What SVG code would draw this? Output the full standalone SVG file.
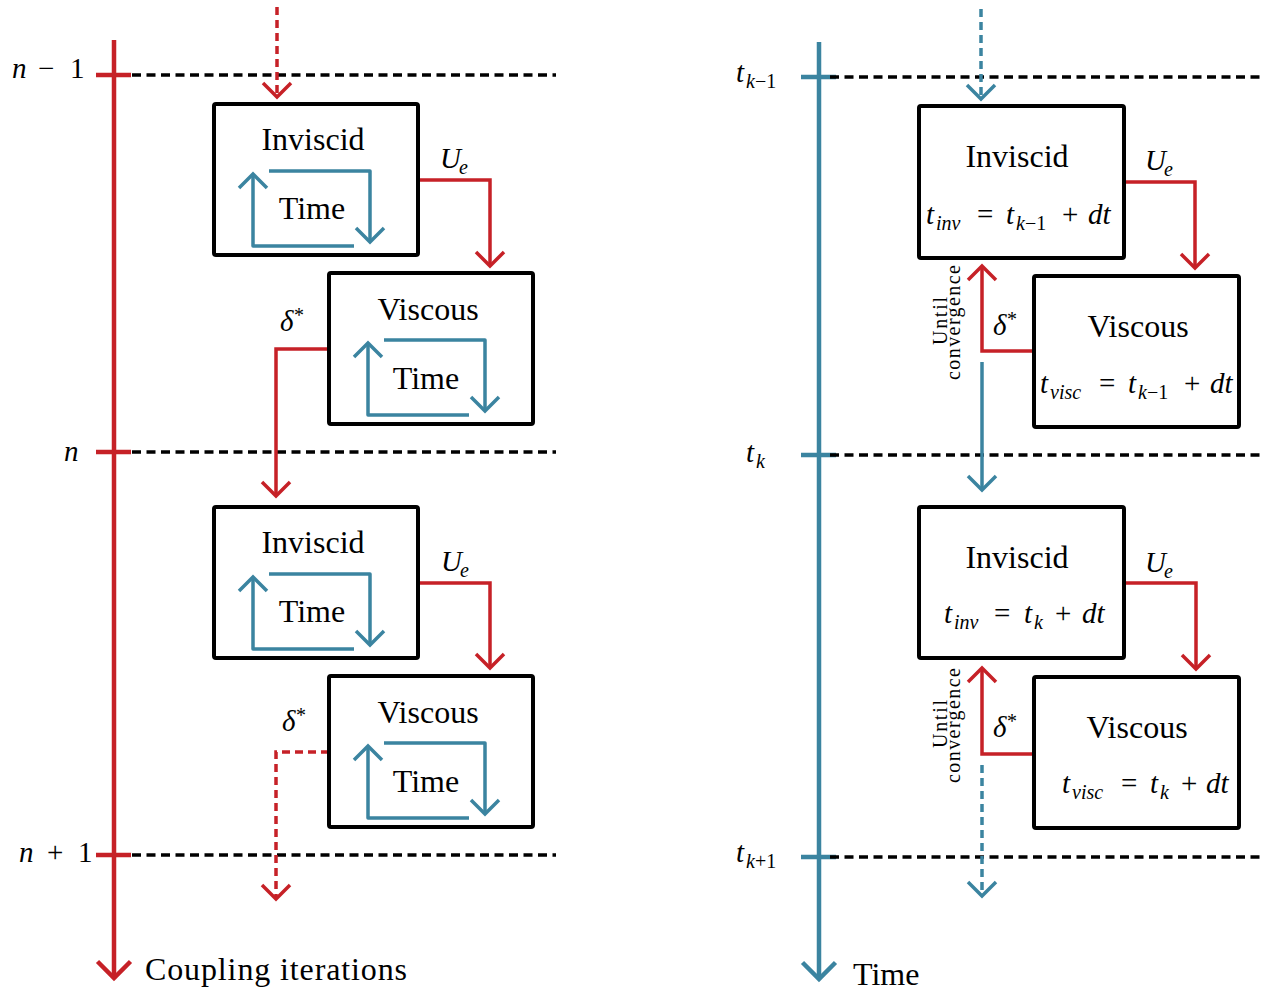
<svg xmlns="http://www.w3.org/2000/svg" width="1270" height="991" viewBox="0 0 1270 991">
<style>
text{font-family:"Liberation Serif","Times New Roman",serif;fill:#000}
.t{font-size:32px}
.m{font-size:29px}
.it{font-style:italic}
.sub{font-size:20px}
.box{fill:#fff;stroke:#000;stroke-width:4;}
.red{fill:none;stroke:#C62127;stroke-width:3.5;stroke-linejoin:miter}
.blue{fill:none;stroke:#3B84A0;stroke-width:3.5;stroke-linejoin:round}
.dash{stroke-dasharray:8 5}
.grid{fill:none;stroke:#000;stroke-width:3.5;stroke-dasharray:9 5.5}
.axr{fill:none;stroke:#C62127;stroke-width:4.5}
.axb{fill:none;stroke:#3B84A0;stroke-width:4.5}
</style>
<defs>
<marker id="ahr" viewBox="-20 -20 40 40" refX="0" refY="0" markerWidth="40" markerHeight="40" markerUnits="userSpaceOnUse" orient="auto"><path d="M-14,-14 L0,0 L-14,14" fill="none" stroke="#C62127" stroke-width="3.5"/></marker>
<marker id="ahb" viewBox="-20 -20 40 40" refX="0" refY="0" markerWidth="40" markerHeight="40" markerUnits="userSpaceOnUse" orient="auto"><path d="M-14,-14 L0,0 L-14,14" fill="none" stroke="#3B84A0" stroke-width="3.5"/></marker>
<marker id="ahR" viewBox="-20 -20 40 40" refX="0" refY="0" markerWidth="40" markerHeight="40" markerUnits="userSpaceOnUse" orient="auto"><path d="M-16.5,-16.5 L0,0 L-16.5,16.5" fill="none" stroke="#C62127" stroke-width="4.5"/></marker>
<marker id="ahB" viewBox="-20 -20 40 40" refX="0" refY="0" markerWidth="40" markerHeight="40" markerUnits="userSpaceOnUse" orient="auto"><path d="M-16.5,-16.5 L0,0 L-16.5,16.5" fill="none" stroke="#3B84A0" stroke-width="4.5"/></marker>
</defs>

<g id="axes">
  <path class="grid" d="M132,75 H556 M132,452 H556 M132,855 H556"/>
  <path class="axr" d="M96,75 H131 M96,452 H131 M96,855 H131"/>
  <path class="axr" d="M114,40 V978" marker-end="url(#ahR)"/>
  <path class="axb" d="M801,77 H836 M801,455 H836 M801,857 H836"/>
  <path class="grid" d="M830,77 H1262 M830,455 H1262 M830,857 H1262"/>
  <path class="axb" d="M819,42 V979" marker-end="url(#ahB)"/>
  <text class="m" x="12" y="78"><tspan class="it">n</tspan><tspan x="38">−</tspan><tspan x="70">1</tspan></text>
  <text class="m it" x="64" y="461">n</text>
  <text class="m" x="19" y="862"><tspan class="it">n</tspan><tspan x="47">+</tspan><tspan x="78">1</tspan></text>
  <text class="t" x="145" y="980" textLength="262">Coupling iterations</text>
  <text class="m" x="736" y="82"><tspan class="it">t</tspan><tspan class="sub" x="746" y="88"><tspan class="it">k</tspan>−1</tspan></text>
  <text class="m" x="746" y="462"><tspan class="it">t</tspan><tspan class="sub it" x="756" y="468">k</tspan></text>
  <text class="m" x="736" y="862"><tspan class="it">t</tspan><tspan class="sub" x="746" y="868"><tspan class="it">k</tspan>+1</tspan></text>
  <text class="t" x="853" y="985">Time</text>
</g>

<g id="connectors">
  <path class="red dash" d="M277,7 V97" marker-end="url(#ahr)"/>
  <path class="red" d="M418,180 H490 V266" marker-end="url(#ahr)"/>
  <path class="red" d="M329,349 H276 V496" marker-end="url(#ahr)"/>
  <path class="red" d="M418,583 H490 V668" marker-end="url(#ahr)"/>
  <path class="red dash" d="M329,752 H276 V899" marker-end="url(#ahr)"/>
  <path class="blue dash" d="M981,9 V99" marker-end="url(#ahb)"/>
  <path class="red" d="M1124,182 H1195 V268" marker-end="url(#ahr)"/>
  <path class="red" d="M1034,351 H982 V266" marker-end="url(#ahr)"/>
  <path class="blue" d="M982,362 V490" marker-end="url(#ahb)"/>
  <path class="red" d="M1124,583 H1196 V669" marker-end="url(#ahr)"/>
  <path class="red" d="M1034,754 H982 V668" marker-end="url(#ahr)"/>
  <path class="blue dash" d="M982,765 V896" marker-end="url(#ahb)"/>
  <text class="m" x="440" y="168"><tspan class="it">U</tspan><tspan class="sub it" x="459" y="174">e</tspan></text>
  <text class="m" x="441" y="571"><tspan class="it">U</tspan><tspan class="sub it" x="460" y="577">e</tspan></text>
  <text class="m" x="1145" y="170"><tspan class="it">U</tspan><tspan class="sub it" x="1164" y="176">e</tspan></text>
  <text class="m" x="1145" y="572"><tspan class="it">U</tspan><tspan class="sub it" x="1164" y="578">e</tspan></text>
  <text class="m" x="280" y="331"><tspan class="it">δ</tspan><tspan class="sub" x="294" y="322">*</tspan></text>
  <text class="m" x="282" y="731"><tspan class="it">δ</tspan><tspan class="sub" x="296" y="722">*</tspan></text>
  <text class="m" x="993" y="335"><tspan class="it">δ</tspan><tspan class="sub" x="1007" y="326">*</tspan></text>
  <text class="m" x="993" y="737"><tspan class="it">δ</tspan><tspan class="sub" x="1007" y="728">*</tspan></text>
  <g font-size="20" text-anchor="middle">
    <text transform="translate(947,321) rotate(-90)" textLength="48">Until</text>
    <text transform="translate(960,322.5) rotate(-90)" textLength="115">convergence</text>
    <text transform="translate(947,724) rotate(-90)" textLength="48">Until</text>
    <text transform="translate(960,725.5) rotate(-90)" textLength="115">convergence</text>
  </g>
</g>

<g id="inviscid-n1">
  <rect class="box" x="214" y="104" width="204" height="151" rx="2"/>
  <text class="t" x="313" y="150" text-anchor="middle">Inviscid</text>
  <path class="blue" d="M269,171 H370 V242" marker-end="url(#ahb)"/>
  <path class="blue" d="M354,246 H253 V174" marker-end="url(#ahb)"/>
  <text class="t" x="312" y="219" text-anchor="middle">Time</text>
</g>
<g id="viscous-n1">
  <rect class="box" x="329" y="273" width="204" height="151" rx="2"/>
  <text class="t" x="428" y="320" text-anchor="middle">Viscous</text>
  <path class="blue" d="M384,340 H485 V411" marker-end="url(#ahb)"/>
  <path class="blue" d="M469,415 H368 V343" marker-end="url(#ahb)"/>
  <text class="t" x="426" y="389" text-anchor="middle">Time</text>
</g>
<g id="inviscid-n">
  <rect class="box" x="214" y="507" width="204" height="151" rx="2"/>
  <text class="t" x="313" y="553" text-anchor="middle">Inviscid</text>
  <path class="blue" d="M269,574 H370 V645" marker-end="url(#ahb)"/>
  <path class="blue" d="M354,649 H253 V577" marker-end="url(#ahb)"/>
  <text class="t" x="312" y="622" text-anchor="middle">Time</text>
</g>
<g id="viscous-n">
  <rect class="box" x="329" y="676" width="204" height="151" rx="2"/>
  <text class="t" x="428" y="723" text-anchor="middle">Viscous</text>
  <path class="blue" d="M384,743 H485 V814" marker-end="url(#ahb)"/>
  <path class="blue" d="M469,818 H368 V746" marker-end="url(#ahb)"/>
  <text class="t" x="426" y="792" text-anchor="middle">Time</text>
</g>

<g id="inviscid-tk1">
  <rect class="box" x="919" y="106" width="205" height="152" rx="2"/>
  <text class="t" x="1017" y="167" text-anchor="middle">Inviscid</text>
  <text class="m" y="224"><tspan class="it" x="926">t</tspan><tspan class="sub it" x="936" y="230">inv</tspan><tspan x="977" y="224">=</tspan><tspan class="it" x="1006">t</tspan><tspan class="sub" x="1016" y="230"><tspan class="it">k</tspan>−1</tspan><tspan x="1062" y="224">+</tspan><tspan class="it" x="1088">dt</tspan></text>
</g>
<g id="viscous-tk1">
  <rect class="box" x="1034" y="276" width="205" height="151" rx="2"/>
  <text class="t" x="1138" y="337" text-anchor="middle">Viscous</text>
  <text class="m" y="393"><tspan class="it" x="1040">t</tspan><tspan class="sub it" x="1050" y="399">visc</tspan><tspan x="1099" y="393">=</tspan><tspan class="it" x="1128">t</tspan><tspan class="sub" x="1138" y="399"><tspan class="it">k</tspan>−1</tspan><tspan x="1184" y="393">+</tspan><tspan class="it" x="1210">dt</tspan></text>
</g>
<g id="inviscid-tk">
  <rect class="box" x="919" y="507" width="205" height="151" rx="2"/>
  <text class="t" x="1017" y="568" text-anchor="middle">Inviscid</text>
  <text class="m" y="623"><tspan class="it" x="944">t</tspan><tspan class="sub it" x="954" y="629">inv</tspan><tspan x="994" y="623">=</tspan><tspan class="it" x="1024">t</tspan><tspan class="sub it" x="1034" y="629">k</tspan><tspan x="1055" y="623">+</tspan><tspan class="it" x="1082">dt</tspan></text>
</g>
<g id="viscous-tk">
  <rect class="box" x="1034" y="677" width="205" height="151" rx="2"/>
  <text class="t" x="1137" y="738" text-anchor="middle">Viscous</text>
  <text class="m" y="793"><tspan class="it" x="1062">t</tspan><tspan class="sub it" x="1072" y="799">visc</tspan><tspan x="1121" y="793">=</tspan><tspan class="it" x="1150">t</tspan><tspan class="sub it" x="1160" y="799">k</tspan><tspan x="1181" y="793">+</tspan><tspan class="it" x="1206">dt</tspan></text>
</g>
</svg>
